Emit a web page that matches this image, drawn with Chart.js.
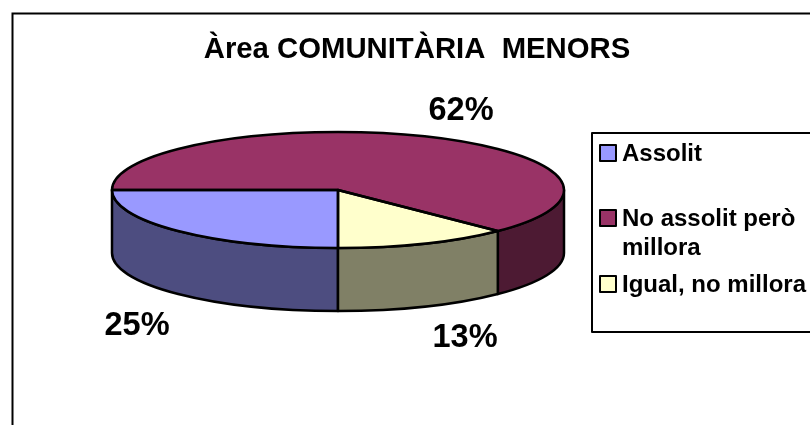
<!DOCTYPE html>
<html>
<head>
<meta charset="utf-8">
<title>Àrea COMUNITÀRIA MENORS</title>
<script src="https://cdn.jsdelivr.net/npm/chart.js@4"></script>
<style>
  html, body { margin: 0; padding: 0; background: #fff; overflow: hidden; }
  #wrap { width: 810px; height: 425px; }
</style>
</head>
<body>
<div id="wrap"><canvas id="chart" width="810" height="425"></canvas></div>
<script>
// ===== DATA =====
const titleText = "Àrea COMUNITÀRIA  MENORS";
const categories = ["Assolit", "No assolit però millora", "Igual, no millora"];
const values = [25, 62.5, 12.5];
const percentLabels = ["25%", "62%", "13%"];
const topColors = ["#9999FF", "#993366", "#FFFFCC"];
const sideColors = ["#4D4D80", "#4D1A33", "#808066"];

// ===== LAYOUT =====
const PIE = { x: 338, y: 190, rx: 226, ry: 58, depth: 63 };
const labelSpots = [[137, 326], [461, 111], [465, 338]];
const legendLines = [[["Assolit"], 154], [["No assolit però"], 219], [["Igual, no millora"], 285]];
const legendExtra = ["millora", 248];

// front wall of the disc, only the part of each slice facing the viewer
function drawWalls(ctx, arcs) {
  ctx.lineWidth = 2.5;
  ctx.strokeStyle = "#000";
  ctx.lineJoin = "round";
  arcs.forEach((arc, i) => {
    const twoPi = Math.PI * 2;
    [0, twoPi, -twoPi].forEach(shift => {
      const from = Math.max(arc.startAngle + shift, 0);
      const to = Math.min(arc.endAngle + shift, Math.PI);
      if (to <= from) return;
      ctx.beginPath();
      ctx.ellipse(PIE.x, PIE.y, PIE.rx, PIE.ry, 0, from, to);
      ctx.ellipse(PIE.x, PIE.y + PIE.depth, PIE.rx, PIE.ry, 0, to, from, true);
      ctx.closePath();
      ctx.fillStyle = sideColors[i];
      ctx.fill();
      ctx.stroke();
    });
  });
}

function drawOutlines(ctx, arcs) {
  ctx.lineWidth = 2.5;
  ctx.strokeStyle = "#000";
  ctx.lineJoin = "round";
  arcs.forEach(arc => {
    ctx.beginPath();
    ctx.moveTo(PIE.x, PIE.y);
    ctx.ellipse(PIE.x, PIE.y, PIE.rx, PIE.ry, 0, arc.startAngle, arc.endAngle);
    ctx.closePath();
    ctx.stroke();
  });
}

function drawLegend(ctx) {
  ctx.fillStyle = "#fff";
  ctx.strokeStyle = "#000";
  ctx.lineWidth = 2;
  ctx.fillRect(592, 133, 230, 199);
  ctx.strokeRect(592, 133, 230, 199);
  ctx.font = "bold 24px 'Liberation Sans', Arial, sans-serif";
  ctx.textBaseline = "middle";
  ctx.textAlign = "left";
  legendLines.forEach(([lines, y], i) => {
    ctx.fillStyle = topColors[i];
    ctx.fillRect(600, y - 9, 16, 16);
    ctx.lineWidth = 2;
    ctx.strokeRect(600, y - 9, 16, 16);
    ctx.fillStyle = "#000";
    lines.forEach(line => ctx.fillText(line, 622, y));
  });
  ctx.fillText(legendExtra[0], 622, legendExtra[1]);
}

// ===== 3D PIE PLUGIN =====
const pie3d = {
  id: "pie3d",
  beforeDraw(chart) {
    const ctx = chart.ctx;
    ctx.save();
    ctx.strokeStyle = "#000";
    ctx.lineWidth = 2;
    ctx.strokeRect(12.5, 13.5, 830, 450);
    ctx.fillStyle = "#000";
    ctx.font = "bold 29.3px 'Liberation Sans', Arial, sans-serif";
    ctx.textAlign = "center";
    ctx.textBaseline = "middle";
    ctx.fillText(titleText, 417, 50);
    ctx.restore();
  },
  beforeDatasetsDraw(chart) {
    const ctx = chart.ctx;
    const arcs = chart.getDatasetMeta(0).data;
    ctx.save();
    drawWalls(ctx, arcs);
    ctx.restore();
    // squash the round pie onto the ellipse, library draws the slices
    const first = arcs[0];
    ctx.save();
    ctx.translate(PIE.x, PIE.y);
    ctx.scale(PIE.rx / first.outerRadius, PIE.ry / first.outerRadius);
    ctx.translate(-first.x, -first.y);
  },
  afterDatasetsDraw(chart) {
    const ctx = chart.ctx;
    ctx.restore();
    ctx.save();
    drawOutlines(ctx, chart.getDatasetMeta(0).data);
    ctx.fillStyle = "#000";
    ctx.font = "bold 32.5px 'Liberation Sans', Arial, sans-serif";
    ctx.textAlign = "center";
    ctx.textBaseline = "middle";
    percentLabels.forEach((t, i) => ctx.fillText(t, labelSpots[i][0], labelSpots[i][1]));
    drawLegend(ctx);
    ctx.restore();
  }
};

// ===== CHART =====
new Chart(document.getElementById("chart"), {
  type: "pie",
  data: {
    labels: categories,
    datasets: [{
      data: values,
      backgroundColor: topColors,
      borderWidth: 0
    }]
  },
  options: {
    responsive: false,
    animation: false,
    rotation: 180,
    events: [],
    plugins: {
      legend: { display: false },
      tooltip: { enabled: false }
    }
  },
  plugins: [pie3d]
});
</script>
</body>
</html>
